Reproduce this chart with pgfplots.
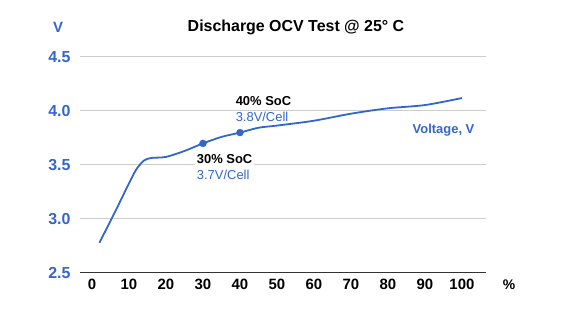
\documentclass[border=0pt]{standalone}
\usepackage{pgfplots}
\pgfplotsset{compat=1.18}
\usepackage{fontspec}
\setmainfont{Liberation Sans}
\definecolor{gblue}{HTML}{3366CC}
\definecolor{gridc}{HTML}{CCCCCC}
\definecolor{axc}{HTML}{333333}
\begin{document}
\begin{tikzpicture}
\useasboundingbox (0,0) rectangle (570bp,324bp);
\node[font=\fontsize{16}{18}\selectfont\bfseries] at (296bp,297bp) {Discharge OCV Test @ 25° C};
\node[font=\fontsize{15}{17}\selectfont\bfseries, text=gblue] at (58bp,297bp) {V};
\node[font=\fontsize{14}{16}\selectfont\bfseries] at (509bp,39bp) {\%};
\begin{axis}[
  at={(80bp,51bp)}, anchor=south west,
  scale only axis, width=406bp, height=216bp,
  xmin=-3.24, xmax=106.5, ymin=2.5, ymax=4.5,
  axis line style={draw=none},
  axis x line*=bottom, axis y line*=left,
  xtick={0,10,...,100},
  xticklabels={0,10,20,30,40,50,60,70,80,90,100},
  ytick={2.5,3.0,3.5,4.0,4.5},
  yticklabels={2.5,3.0,3.5,4.0,4.5},
  major tick length=0pt,
  ymajorgrids, grid style={gridc, line width=1bp},
  xticklabel style={font=\fontsize{15}{17}\selectfont\bfseries, text=black, yshift=-3bp},
  yticklabel style={font=\fontsize{16}{18}\selectfont\bfseries, text=gblue, xshift=-6bp},
  clip=false,
]
\addplot[gblue, line width=1.8bp, smooth, tension=0.5] coordinates {
(2,2.78) (6,3.05) (10,3.33) (12,3.46) (14,3.54) (16,3.565) (20,3.575) (25,3.63)
(30,3.70) (35,3.76) (40,3.80) (45,3.845) (50,3.865) (60,3.91) (70,3.975)
(80,4.025) (90,4.055) (100,4.12)};
\addplot[only marks, mark=*, mark size=3.5bp, gblue] coordinates {(30,3.70) (40,3.80)};
\draw[axc, line width=1bp] (axis cs:-3.24,2.5) -- (axis cs:106.5,2.5);
\node[fill=white, anchor=west, inner sep=1.5bp, font=\fontsize{13}{15}\selectfont\bfseries] at (axis cs:38.4,4.093) {40\% SoC};
\node[fill=white, anchor=west, inner sep=1.5bp, font=\fontsize{13}{15}\selectfont, text=gblue] at (axis cs:38.4,3.944) {3.8V/Cell};
\node[fill=white, anchor=west, inner sep=1.5bp, font=\fontsize{13}{15}\selectfont\bfseries] at (axis cs:27.9,3.556) {30\% SoC};
\node[fill=white, anchor=west, inner sep=1.5bp, font=\fontsize{13}{15}\selectfont, text=gblue] at (axis cs:27.9,3.407) {3.7V/Cell};
\node[anchor=east, inner sep=0pt, font=\fontsize{13}{15}\selectfont\bfseries, text=gblue] at (axis cs:103.4,3.824) {Voltage, V};
\end{axis}
\end{tikzpicture}
\end{document}
